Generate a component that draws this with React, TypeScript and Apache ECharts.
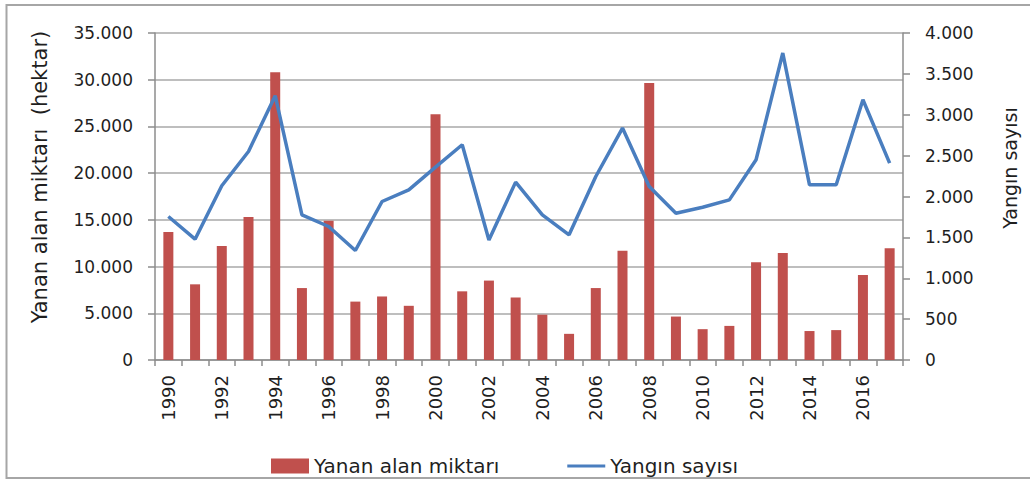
import React, { useEffect, useRef } from "react";
import * as echarts from "echarts";

const years: string[] = [
  "1990", "1991", "1992", "1993", "1994", "1995", "1996", "1997", "1998", "1999",
  "2000", "2001", "2002", "2003", "2004", "2005", "2006", "2007", "2008", "2009",
  "2010", "2011", "2012", "2013", "2014", "2015", "2016", "2017",
];

const burnedArea: number[] = [
  13700, 8100, 12200, 15300, 30800, 7700, 14900, 6250, 6800, 5800,
  26300, 7350, 8500, 6700, 4850, 2800, 7700, 11700, 29650, 4650,
  3300, 3650, 10450, 11450, 3100, 3200, 9100, 11950,
];

const fireCount: number[] = [
  1755, 1478, 2131, 2551, 3233, 1776, 1633, 1339, 1939, 2082,
  2360, 2633, 1469, 2176, 1776, 1531, 2245, 2837, 2122, 1796,
  1869, 1959, 2449, 3755, 2143, 2143, 3184, 2408,
];

const seriesNames: string[] = ["Yanan alan miktarı", "Yangın sayısı"];
const leftAxisName = "Yanan alan miktarı  (hektar)";
const rightAxisName = "Yangın sayısı";

const FONT = "DejaVu Sans";
const TEXT = "#1f1f1f";
const LINE_ICON = "path://M0,0 L38,0 L38,0.01 L0,0.01 Z M0,6 L38,6 L38,9 L0,9 Z M0,15 L38,15 L38,15.01 L0,15.01 Z";

const fmt = (v: number) => String(v).replace(/\B(?=(\d{3})+(?!\d))/g, ".");

export default function App() {
  const ref = useRef<HTMLDivElement>(null);
  useEffect(() => {
    if (!ref.current) return;
    const chart = echarts.init(ref.current, undefined, { renderer: "svg" });
    chart.setOption({
      animation: false,
      backgroundColor: "#ffffff",
      textStyle: { fontFamily: FONT, color: TEXT },
      grid: {
        left: 155,
        right: 127,
        top: 33,
        bottom: 121,
        containLabel: false,
        outerBoundsMode: "none",
      },
      legend: {
        left: 266,
        top: 451,
        itemWidth: 38,
        itemHeight: 15,
        itemGap: 68,
        textStyle: { fontFamily: FONT, fontSize: 20, color: TEXT },
        data: [
          { name: seriesNames[0], icon: "rect" },
          { name: seriesNames[1], icon: LINE_ICON, itemStyle: { color: "#4A7EBF" } },
        ],
      },
      xAxis: {
        type: "category",
        data: years,
        boundaryGap: true,
        axisLine: { show: true, lineStyle: { color: "#8c8c8c", width: 1.5 } },
        axisTick: { show: true, interval: 0, length: 6, lineStyle: { color: "#8c8c8c", width: 1.5 } },
        axisLabel: {
          interval: 1,
          rotate: 90,
          margin: 15,
          fontFamily: FONT,
          fontSize: 18,
          color: TEXT,
        },
        splitLine: { show: false },
      },
      yAxis: [
        {
          type: "value",
          min: 0,
          max: 35000,
          interval: 5000,
          axisLine: { show: true, lineStyle: { color: "#8c8c8c", width: 1.5 } },
          axisTick: { show: true, length: 7, lineStyle: { color: "#8c8c8c", width: 1.5 } },
          axisLabel: {
            formatter: (v: number) => fmt(v),
            margin: 22,
            fontFamily: FONT,
            fontSize: 17,
            color: TEXT,
          },
          splitLine: { show: true, lineStyle: { color: "#a8a8a8", width: 1.5 } },
        },
        {
          type: "value",
          min: 0,
          max: 4000,
          interval: 500,
          position: "right",
          axisLine: { show: true, lineStyle: { color: "#8c8c8c", width: 1.5 } },
          axisTick: { show: true, length: 7, lineStyle: { color: "#8c8c8c", width: 1.5 } },
          axisLabel: {
            formatter: (v: number) => fmt(v),
            margin: 22,
            fontFamily: FONT,
            fontSize: 17,
            color: TEXT,
          },
          splitLine: { show: false },
        },
      ],
      series: [
        {
          name: seriesNames[0],
          type: "bar",
          data: burnedArea,
          barWidth: 10,
          itemStyle: { color: "#C0504D" },
          yAxisIndex: 0,
        },
        {
          name: seriesNames[1],
          type: "line",
          data: fireCount,
          yAxisIndex: 1,
          symbol: "none",
          showSymbol: false,
          lineStyle: { color: "#4A7EBF", width: 3.5 },
          itemStyle: { color: "#4A7EBF" },
        },
      ],
      graphic: [
        {
          type: "rect",
          shape: { x: 6.5, y: 5, width: 1040, height: 473 },
          style: { fill: "none", stroke: "#a6a6a6", lineWidth: 2 },
          silent: true,
          z: -1,
        },
        {
          type: "text",
          x: 40,
          y: 177,
          rotation: Math.PI / 2,
          style: {
            text: leftAxisName,
            fontFamily: FONT,
            fontSize: 21,
            fill: TEXT,
            align: "center",
            verticalAlign: "middle",
          },
        },
        {
          type: "text",
          x: 1010,
          y: 168,
          rotation: Math.PI / 2,
          style: {
            text: rightAxisName,
            fontFamily: FONT,
            fontSize: 19,
            fill: TEXT,
            align: "center",
            verticalAlign: "middle",
          },
        },
      ],
    });
    return () => chart.dispose();
  }, []);
  return (
    <div
      ref={ref}
      style={{ position: "fixed", left: 0, top: 0, width: 1030, height: 481 }}
    />
  );
}
